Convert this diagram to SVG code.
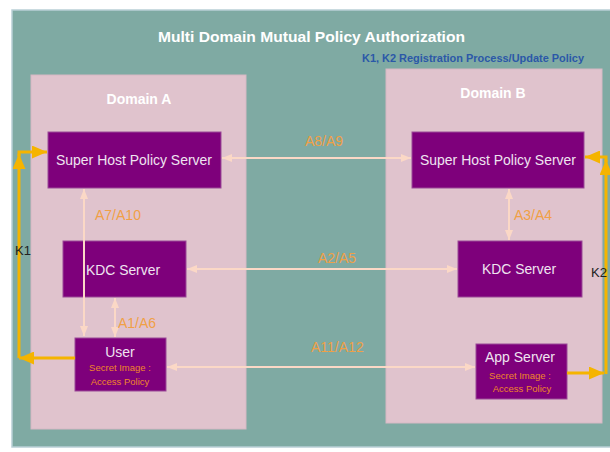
<svg xmlns="http://www.w3.org/2000/svg" width="610" height="452" viewBox="0 0 610 452">
  <style>
    .panel { fill: #7faaa3; stroke: #b9cfd6; stroke-width: 1.5; }
    .domain { fill: #e0c3cd; stroke: #d6b8c4; stroke-width: 1; }
    .box { fill: #7e007b; stroke: #9a4a97; stroke-width: 1; }
    .title { font-family: "Liberation Sans", Arial, sans-serif; font-weight: bold; fill: #ffffff; }
    .dom { font-family: "Liberation Sans", Arial, sans-serif; font-weight: bold; font-size: 14px; fill: #ffffff; text-anchor: middle; }
    .node { font-family: "Liberation Sans", Arial, sans-serif; font-size: 14px; fill: #efe4f0; text-anchor: middle; }
    .sub { font-family: "Liberation Sans", Arial, sans-serif; font-size: 9.5px; fill: #f0862a; text-anchor: middle; }
    .lbl { font-family: "Liberation Sans", Arial, sans-serif; font-size: 14px; fill: #f0a046; }
    .k { font-family: "Liberation Sans", Arial, sans-serif; font-size: 13px; fill: #222222; }
    .link { stroke: #fbd8c6; stroke-width: 2; fill: none; }
    .reg { stroke: #f5b400; stroke-width: 3; fill: none; }
  </style>
  <defs>
    <marker id="peach" markerUnits="userSpaceOnUse" markerWidth="10" markerHeight="8" refX="10" refY="4" orient="auto-start-reverse">
      <path d="M0,0 L10,4 L0,8 z" fill="#fbd8c6"/>
    </marker>
    <marker id="gold" markerUnits="userSpaceOnUse" markerWidth="15" markerHeight="13" refX="15" refY="6.5" orient="auto-start-reverse">
      <path d="M0,0 L15,6.5 L0,13 z" fill="#f5b400"/>
    </marker>
  </defs>

  <!-- background panel -->
  <rect class="panel" x="12" y="10" width="600" height="437"/>
  <text class="title" x="158" y="42" font-size="15" textLength="307" lengthAdjust="spacingAndGlyphs">Multi Domain Mutual Policy Authorization</text>
  <text x="362" y="62" font-family="Liberation Sans, Arial, sans-serif" font-weight="bold" font-size="10.5" fill="#2b58a8" textLength="222" lengthAdjust="spacingAndGlyphs">K1, K2 Registration Process/Update Policy</text>

  <!-- domains -->
  <g id="domainA">
    <rect class="domain" x="31" y="75" width="215" height="354"/>
    <text class="dom" x="139" y="104">Domain A</text>
  </g>
  <g id="domainB">
    <rect class="domain" x="386" y="69" width="216" height="354"/>
    <text class="dom" x="493" y="98">Domain B</text>
  </g>

  <!-- servers -->
  <g id="shpsA">
    <rect class="box" x="48" y="132" width="173" height="56"/>
    <text class="node" x="134" y="165" textLength="156" lengthAdjust="spacingAndGlyphs">Super Host Policy Server</text>
  </g>
  <g id="shpsB">
    <rect class="box" x="412" y="132" width="172" height="56"/>
    <text class="node" x="498" y="165" textLength="156" lengthAdjust="spacingAndGlyphs">Super Host Policy Server</text>
  </g>
  <g id="kdcA">
    <rect class="box" x="63" y="241" width="123" height="56"/>
    <text class="node" x="123" y="275" textLength="74" lengthAdjust="spacingAndGlyphs">KDC Server</text>
  </g>
  <g id="kdcB">
    <rect class="box" x="458" y="241" width="124" height="56"/>
    <text class="node" x="519" y="274" textLength="74" lengthAdjust="spacingAndGlyphs">KDC Server</text>
  </g>
  <g id="user">
    <rect class="box" x="75" y="338" width="91" height="53"/>
    <text class="node" x="120" y="357">User</text>
    <text class="sub" x="120" y="371">Secret Image :</text>
    <text class="sub" x="120" y="385">Access Policy</text>
  </g>
  <g id="appServer">
    <rect class="box" x="476" y="344" width="91" height="55"/>
    <text class="node" x="520" y="362">App Server</text>
    <text class="sub" x="520" y="379">Secret Image :</text>
    <text class="sub" x="522" y="392">Access Policy</text>
  </g>

  <!-- connectors -->
  <g id="connectors">
    <line class="link" x1="222" y1="158" x2="411" y2="158" marker-start="url(#peach)" marker-end="url(#peach)"/>
    <line class="link" x1="187" y1="269" x2="457" y2="269" marker-start="url(#peach)" marker-end="url(#peach)"/>
    <line class="link" x1="167" y1="367" x2="475" y2="367" marker-start="url(#peach)" marker-end="url(#peach)"/>
    <line class="link" x1="84" y1="189" x2="84" y2="336" marker-start="url(#peach)" marker-end="url(#peach)"/>
    <line class="link" x1="115" y1="298" x2="115" y2="337" marker-start="url(#peach)" marker-end="url(#peach)"/>
    <line class="link" x1="509" y1="189" x2="509" y2="240" marker-start="url(#peach)" marker-end="url(#peach)"/>

    <!-- K1 registration path -->
    <line class="reg" x1="75" y1="358" x2="19" y2="358" marker-end="url(#gold)"/>
    <line class="reg" x1="19" y1="358" x2="19" y2="154" marker-end="url(#gold)"/>
    <polyline class="reg" points="19,156 19,152 47,152" marker-end="url(#gold)"/>

    <!-- K2 registration path -->
    <line class="reg" x1="567" y1="373" x2="604" y2="373" marker-end="url(#gold)"/>
    <line class="reg" x1="606" y1="374" x2="606" y2="160" marker-end="url(#gold)"/>
    <polyline class="reg" points="606,162 606,157 585,157" marker-end="url(#gold)"/>

    <text class="lbl" x="305" y="146">A8/A9</text>
    <text class="lbl" x="318" y="263">A2/A5</text>
    <text class="lbl" x="311" y="352">A11/A12</text>
    <text class="lbl" x="95" y="220">A7/A10</text>
    <text class="lbl" x="118" y="328">A1/A6</text>
    <text class="lbl" x="514" y="220">A3/A4</text>
    <text class="k" x="15" y="255">K1</text>
    <text class="k" x="591" y="277">K2</text>
  </g>
</svg>
